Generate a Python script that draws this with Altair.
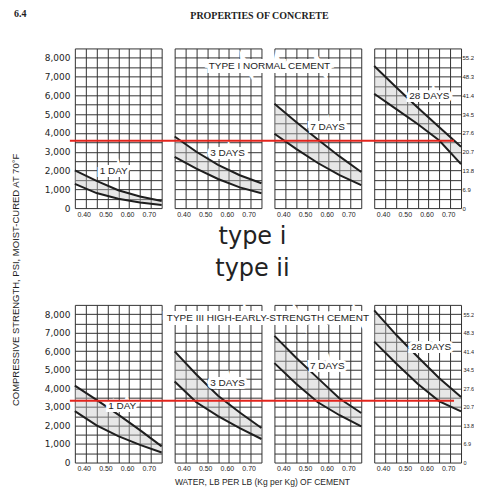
import json
import altair as alt
import pandas as pd

# ---------------- data ----------------
wc = [0.35, 0.45, 0.55, 0.65, 0.75]          # water-cement ratio sample points

# Type I normal cement (psi)
t1_1d_hi = [2010, 1450, 950, 620, 380]
t1_1d_lo = [1290, 800, 500, 300, 160]
t1_3d_hi = [3810, 3000, 2300, 1750, 1320]
t1_3d_lo = [2720, 2100, 1550, 1100, 790]
t1_7d_hi = [5550, 4580, 3650, 2750, 1920]
t1_7d_lo = [3960, 3150, 2400, 1750, 1220]
t1_28d_hi = [7560, 6450, 5350, 4300, 3260]
t1_28d_lo = [6090, 5280, 4480, 3600, 2340]

# Type III high-early-strength cement (psi)
t3_1d_hi = [4150, 3380, 2580, 1750, 870]
t3_1d_lo = [2770, 2000, 1420, 950, 540]
t3_3d_hi = [5990, 4750, 3600, 2700, 1860]
t3_3d_lo = [4370, 3250, 2500, 1850, 1270]
t3_7d_hi = [6830, 5650, 4550, 3450, 2670]
t3_7d_lo = [5360, 4250, 3250, 2550, 1950]
t3_28d_hi = [8200, 6900, 5700, 4550, 3530]
t3_28d_lo = [6520, 5350, 4250, 3300, 2760]

age_labels = ["1 DAY", "3 DAYS", "7 DAYS", "28 DAYS"]
t1_label_x = [0.529, 0.594, 0.595, 0.604]
t1_label_y = [1966, 2938, 4320, 5967]
t3_label_x = [0.568, 0.594, 0.594, 0.612]
t3_label_y = [3030, 4300, 5220, 6225]

type_titles = ["TYPE I  NORMAL  CEMENT", "TYPE III  HIGH-EARLY-STRENGTH  CEMENT"]
type_title_x = [0.327, 0.320]
type_title_y = [7560, 7800]

red_line_psi = [3590, 3335]

x_grid = [0.35, 0.40, 0.45, 0.50, 0.55, 0.60, 0.65, 0.70, 0.75]
x_tick_labels = ["", "0.40", "", "0.50", "", "0.60", "", "0.70", ""]
y_grid = [0, 500, 1000, 1500, 2000, 2500, 3000, 3500, 4000, 4500,
          5000, 5500, 6000, 6500, 7000, 7500, 8000, 8500]
psi_tick_labels = ["0", "", "1,000", "", "2,000", "", "3,000", "", "4,000", "",
                   "5,000", "", "6,000", "", "7,000", "", "8,000", ""]
mpa_tick_labels = ["0", "", "6.9", "", "13.8", "", "20.7", "", "27.6", "",
                   "34.5", "", "41.4", "", "48.3", "", "55.2", ""]

y_title = "COMPRESSIVE STRENGTH, PSI, MOIST-CURED AT 70°F"
x_title = "WATER, LB PER LB (Kg per Kg) OF CEMENT"
header = "PROPERTIES OF CONCRETE"
section = "6.4"
row_titles = ["type i", "type ii"]

# ---------------- styling ----------------
NARROW = "'Liberation Sans Narrow', 'Liberation Sans', Arial, sans-serif"
SANS = "'Liberation Sans', Arial, sans-serif"
WIDE = "'DejaVu Sans', sans-serif"
SERIF = "'Liberation Serif', 'Times New Roman', serif"
INK = "#1e1e1e"
GRID = "#333333"
PW = 87            # panel width
H1, H2 = 160, 158  # panel heights of the two rows

xs = alt.Scale(domain=[0.35, 0.75], nice=False, zero=False)
ys = alt.Scale(domain=[0, 8500], nice=False, zero=False)


def x_axis():
    return alt.Axis(values=x_grid, labelExpr=f"{json.dumps(x_tick_labels)}[round(datum.value*20)-7]",
                    grid=True, gridColor=GRID, gridWidth=1, gridOpacity=1, ticks=False, domain=False,
                    title=None, labelFont=NARROW, labelFontSize=7, labelColor=INK, labelPadding=2,
                    labelOffset=-2, labelFlush=False, labelOverlap=False)


def y_axis(show_labels):
    kw = dict(values=y_grid, grid=True, gridColor=GRID, gridWidth=1, gridOpacity=1, ticks=False,
              domain=False, title=None, labels=show_labels, labelOverlap=False)
    if show_labels:
        kw.update(labelExpr=f"{json.dumps(psi_tick_labels)}[round(datum.value/500)]",
                  labelFont=WIDE, labelFontSize=9, labelColor=INK, labelPadding=5)
    return alt.Axis(**kw)


def panel(hi, lo, label, lx, ly, h, first, last, red=None, right_pad=7, right_size=6, type_idx=None):
    XA = x_axis()
    YA = y_axis(first)
    ya_rest = None if last else YA   # independent y axes in the last panel

    def X(f):
        return alt.X(f, scale=xs, axis=XA)

    def Y(f, main=False):
        return alt.Y(f, scale=ys, axis=YA if main else ya_rest)

    df = pd.DataFrame({"wc": wc, "hi": hi, "lo": lo})
    layers = [
        alt.Chart(df).mark_area(color="#c4c4c4", opacity=0.4).encode(
            x=X("wc:Q"), y=Y("lo:Q", True), y2="hi:Q"),
        alt.Chart(df).mark_line(color=INK, strokeWidth=2).encode(x=X("wc:Q"), y=Y("hi:Q")),
        alt.Chart(df).mark_line(color=INK, strokeWidth=2).encode(x=X("wc:Q"), y=Y("lo:Q")),
    ]
    lab = pd.DataFrame({"x": [lx], "y": [ly], "t": [label]})
    for halo in (True, False):
        mk = dict(font=NARROW, fontSize=10, color=INK)
        if halo:
            mk.update(color="white", stroke="white", strokeWidth=6)
        layers.append(alt.Chart(lab).mark_text(**mk).encode(x=X("x:Q"), y=Y("y:Q"), text="t:N"))
    if type_idx is not None:
        tt = pd.DataFrame({"x": [type_title_x[type_idx]], "y": [type_title_y[type_idx]],
                           "t": [type_titles[type_idx]]})
        for halo in (True, False):
            mk = dict(font=SANS, fontSize=10, color=INK)
            if halo:
                mk.update(color="white", stroke="white", strokeWidth=8)
            layers.append(alt.Chart(tt).mark_text(**mk).encode(x=X("x:Q"), y=Y("y:Q"), text="t:N"))
    if last:
        rd = pd.DataFrame({"psi": [red]})
        layers.append(alt.Chart(rd).mark_rule(color="#e3241c", strokeWidth=2).encode(
            x=alt.value(-305), x2=alt.value(80),
            y=alt.Y("psi:Q", scale=ys,
                    axis=alt.Axis(orient="right", values=y_grid, grid=False, ticks=False, domain=False,
                                  title=None, labelOverlap=False,
                                  labelExpr=f"{json.dumps(mpa_tick_labels)}[round(datum.value/500)]",
                                  labelFont=NARROW, labelFontSize=right_size, labelColor=INK,
                                  labelPadding=right_pad))))
    ch = alt.layer(*layers).properties(width=PW, height=h)
    if last:
        ch = ch.resolve_axis(y="independent")
    return ch


def blank(w, h):
    return alt.Chart(pd.DataFrame({"t": [""]})).mark_text().encode(text="t:N").properties(width=w, height=h)


t1 = [(t1_1d_hi, t1_1d_lo), (t1_3d_hi, t1_3d_lo), (t1_7d_hi, t1_7d_lo), (t1_28d_hi, t1_28d_lo)]
t3 = [(t3_1d_hi, t3_1d_lo), (t3_3d_hi, t3_3d_lo), (t3_7d_hi, t3_7d_lo), (t3_28d_hi, t3_28d_lo)]

# left column of the first row carries the page texts
ltxt = pd.DataFrame({"t": [y_title]})
left_texts = alt.layer(
    alt.Chart(ltxt).mark_text(font=NARROW, fontSize=9.5, color=INK, angle=270).encode(
        text="t:N", x=alt.value(-38), y=alt.value(232)),
    alt.Chart(pd.DataFrame({"t": [section]})).mark_text(
        font=SERIF, fontSize=10, fontWeight="bold", color=INK, align="left").encode(
        text="t:N", x=alt.value(-40), y=alt.value(-34)),
    alt.Chart(pd.DataFrame({"t": [header]})).mark_text(
        font=SERIF, fontSize=10, fontWeight="bold", color=INK).encode(
        text="t:N", x=alt.value(206), y=alt.value(-32.5)),
).properties(width=8, height=H1)

row1 = [left_texts] + [
    panel(hi, lo, age_labels[i], t1_label_x[i], t1_label_y[i], H1, i == 0, i == 3,
          red=red_line_psi[0], right_pad=1, right_size=6, type_idx=0 if i == 2 else None)
    for i, (hi, lo) in enumerate(t1)]

MH = 77
mid = alt.Chart(pd.DataFrame({"t": row_titles})).mark_text(
    font=WIDE, fontSize=24, color="#222222").encode(
    text="t:N", x=alt.value(178),
    y=alt.Y("t:N", axis=None, scale=alt.Scale(range=[19, 51], padding=0))).properties(width=PW, height=MH)
row_mid = [blank(8, MH), mid, blank(PW, MH), blank(PW, MH), blank(PW, MH)]

row2 = [blank(2, H2)] + [
    panel(hi, lo, age_labels[i], t3_label_x[i], t3_label_y[i], H2, i == 0, i == 3,
          red=red_line_psi[1], right_pad=2, right_size=5.5, type_idx=1 if i == 2 else None)
    for i, (hi, lo) in enumerate(t3)]

BH = 12
bottom = alt.Chart(pd.DataFrame({"t": [x_title]})).mark_text(
    font=NARROW, fontSize=8.5, color=INK).encode(
    text="t:N", x=alt.value(188), y=alt.value(10)).properties(width=PW, height=BH)
row_bot = [blank(2, BH), bottom, blank(PW, BH), blank(PW, BH), blank(PW, BH)]

# fixed-size canvas (467 x 480) so the page never scrolls; grid origin at (46, 40)
chart = alt.concat(*(row1 + row_mid + row2 + row_bot), columns=5,
                   spacing={"row": 10, "column": 13}, bounds="flush",
                   align={"row": "each", "column": "none"}).properties(
    autosize=alt.AutoSizeParams(type="none"),
    padding={"left": 46, "top": 40, "right": 421, "bottom": 440}
).configure(background="white").configure_view(stroke="transparent")

chart.save("out.html", embed_options={"renderer": "svg", "actions": False})
